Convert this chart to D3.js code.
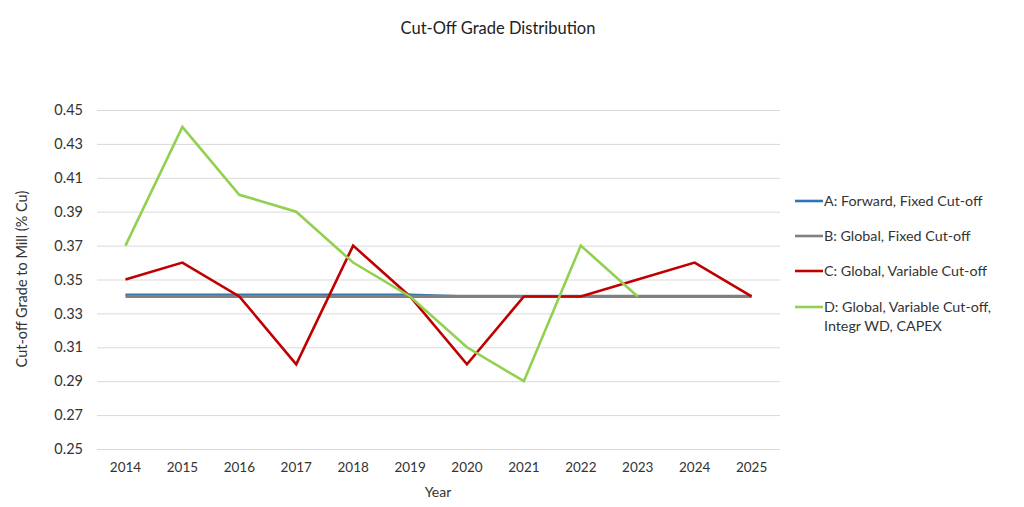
<!DOCTYPE html>
<html><head><meta charset="utf-8">
<script src="https://cdn.jsdelivr.net/npm/d3@7"></script>
<style>body{margin:0;background:#fff;} svg{display:block;font-family:Lato,"Open Sans",sans-serif;}</style>
</head><body>
<svg id="c" width="1024" height="507"></svg>
<script>
const years = ["2014","2015","2016","2017","2018","2019","2020","2021","2022","2023","2024","2025"];
const seriesA = [0.341,0.341,0.341,0.341,0.341,0.341,0.34,0.34,0.34,0.34,0.34,0.34];
const seriesB = [0.34,0.34,0.34,0.34,0.34,0.34,0.34,0.34,0.34,0.34,0.34,0.34];
const seriesC = [0.35,0.36,0.34,0.30,0.37,0.34,0.30,0.34,0.34,0.35,0.36,0.34];
const seriesD = [0.37,0.44,0.40,0.39,0.36,0.34,0.31,0.29,0.37,0.34,null,null];
const yTicks = [0.25,0.27,0.29,0.31,0.33,0.35,0.37,0.39,0.41,0.43,0.45];
const names = ["A: Forward, Fixed Cut-off","B: Global, Fixed Cut-off","C: Global, Variable Cut-off",["D: Global, Variable Cut-off,","Integr WD, CAPEX"]];
const colors = ["#2E75B6","#808080","#C00000","#92D050"];

const svg = d3.select("#c");
const L=97,R=780,T=110,B=449;
const x = d3.scaleBand().domain(years).range([L,R]);
const y = d3.scaleLinear().domain([0.25,0.45]).range([B,T]);

svg.append("text").attr("x",498).attr("y",34).attr("text-anchor","middle")
  .attr("font-size",16.5).attr("fill","#222").text("Cut-Off Grade Distribution");

const ga = svg.append("g").attr("transform",`translate(${L},0)`)
  .call(d3.axisLeft(y).tickValues(yTicks).tickFormat(d3.format(".2f")).tickSize(-(R-L)).tickPadding(14));
ga.select(".domain").remove();
ga.selectAll(".tick line").attr("stroke","#d9d9d9").attr("stroke-width",1);
ga.selectAll(".tick text").attr("font-size",14.5).attr("fill","#333").attr("font-family","Lato,sans-serif");

const gx = svg.append("g").attr("transform",`translate(0,${B})`)
  .call(d3.axisBottom(x).tickSize(0).tickPadding(13));
gx.select(".domain").remove();
gx.selectAll(".tick text").attr("font-size",13.5).attr("fill","#333").attr("font-family","Lato,sans-serif");

svg.append("text").attr("x",438).attr("y",497).attr("text-anchor","middle").attr("font-size",14).attr("fill","#333").text("Year");
svg.append("text").attr("transform","translate(27,279) rotate(-90)").attr("text-anchor","middle")
  .attr("font-size",14.5).attr("fill","#333").text("Cut-off Grade to Mill (% Cu)");

const all=[seriesA,seriesB,seriesC,seriesD];
const line = d3.line().defined(d=>d.v!=null).x(d=>x(d.k)+x.bandwidth()/2).y(d=>y(d.v));
all.forEach((s,i)=>{
  svg.append("path").datum(s.map((v,j)=>({k:years[j],v})))
    .attr("d",line).attr("fill","none").attr("stroke",colors[i])
    .attr("stroke-width",i===1?3.2:2.6).attr("stroke-linejoin","miter");
});

const ly=[201,236,271,307];
names.forEach((n,i)=>{
  svg.append("line").attr("x1",795).attr("x2",823).attr("y1",ly[i]).attr("y2",ly[i]).attr("stroke",colors[i]).attr("stroke-width",2.6);
  const t=svg.append("text").attr("x",824).attr("y",ly[i]+5).attr("font-size",14.3).attr("fill","#333");
  const lines=Array.isArray(n)?n:[n];
  lines.forEach((s,k)=>t.append("tspan").attr("x",824).attr("dy",k?19:0).text(s));
});
</script>
</body></html>
